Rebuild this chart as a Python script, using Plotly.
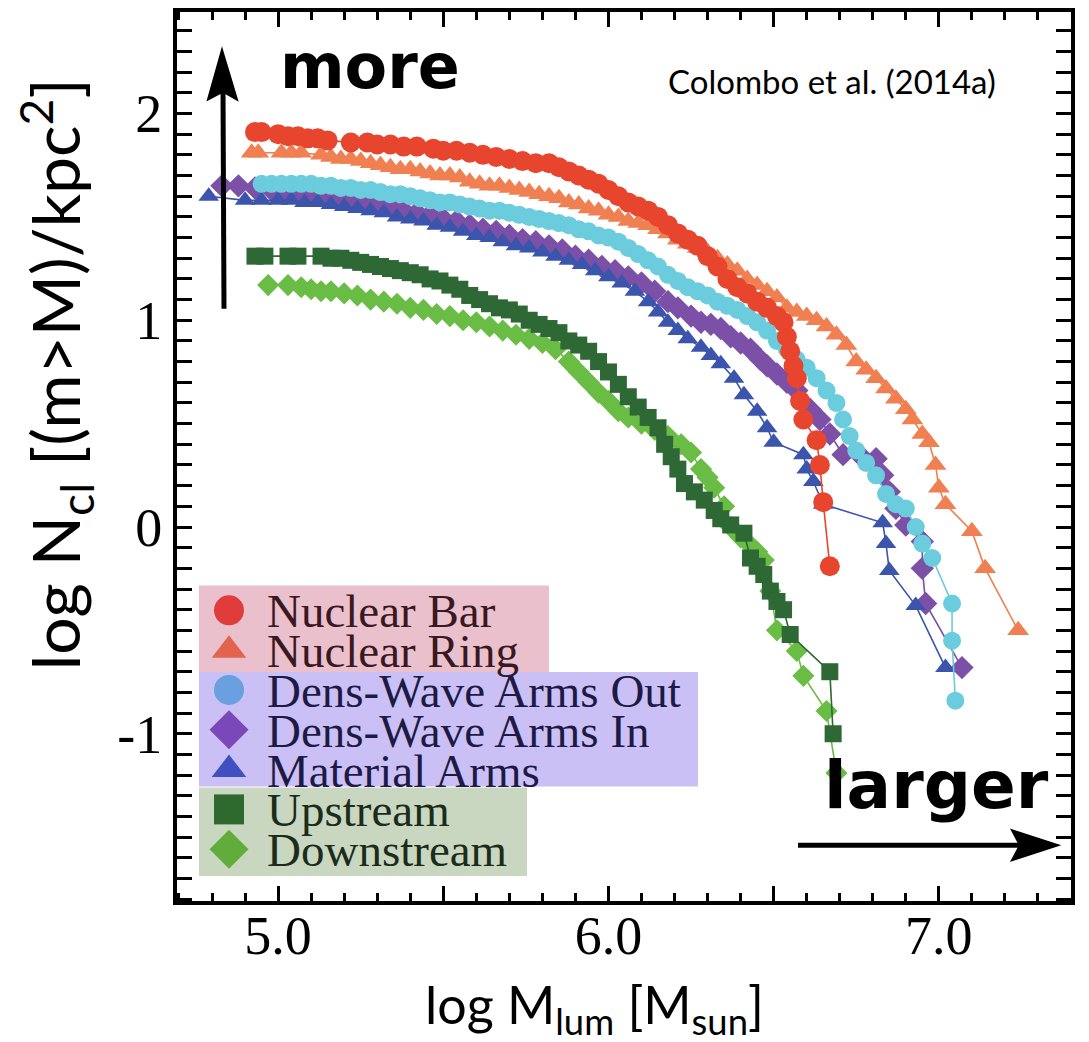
import plotly.graph_objects as go

# ---------------- data ----------------
nb_x = [4.93, 4.95, 5.00, 5.03, 5.06, 5.09, 5.12, 5.15, 5.22, 5.27,
        5.30, 5.34, 5.38, 5.42, 5.47, 5.50, 5.54, 5.58, 5.62, 5.66,
        5.70, 5.74, 5.78, 5.82, 5.85, 5.88, 5.91, 5.94, 5.97, 6.00,
        6.03, 6.06, 6.09, 6.12, 6.15, 6.18, 6.21, 6.24, 6.27, 6.30,
        6.33, 6.36, 6.39, 6.42, 6.45, 6.48, 6.51, 6.53, 6.54, 6.55,
        6.56, 6.57, 6.58, 6.59, 6.63, 6.64, 6.65, 6.67]
nb_y = [1.91, 1.91, 1.90, 1.89, 1.89, 1.88, 1.88, 1.87, 1.86, 1.86,
        1.85, 1.85, 1.84, 1.84, 1.83, 1.82, 1.82, 1.81, 1.80, 1.79,
        1.78, 1.77, 1.76, 1.76, 1.74, 1.72, 1.70, 1.68, 1.66, 1.63,
        1.60, 1.57, 1.55, 1.53, 1.50, 1.46, 1.42, 1.39, 1.36, 1.31,
        1.26, 1.20, 1.16, 1.13, 1.09, 1.06, 1.02, 0.99, 0.92, 0.85,
        0.78, 0.72, 0.61, 0.52, 0.42, 0.30, 0.12, -0.19]

nr_x = [4.92, 4.94, 5.01, 5.04, 5.07, 5.13, 5.16, 5.19, 5.22, 5.25,
        5.28, 5.31, 5.34, 5.37, 5.40, 5.43, 5.46, 5.49, 5.52, 5.55,
        5.58, 5.61, 5.64, 5.67, 5.70, 5.73, 5.76, 5.79, 5.82, 5.85,
        5.88, 5.91, 5.94, 5.97, 6.00, 6.03, 6.06, 6.09, 6.12, 6.15,
        6.18, 6.21, 6.24, 6.27, 6.30, 6.33, 6.36, 6.39, 6.42, 6.45,
        6.48, 6.51, 6.54, 6.57, 6.60, 6.63, 6.66, 6.69, 6.72, 6.75,
        6.78, 6.81, 6.84, 6.87, 6.90, 6.92, 6.95, 6.97, 6.99, 7.00,
        7.02, 7.10, 7.14, 7.24]
nr_y = [1.81, 1.81, 1.81, 1.81, 1.81, 1.80, 1.79, 1.78, 1.78, 1.77,
        1.76, 1.75, 1.74, 1.73, 1.73, 1.72, 1.71, 1.70, 1.70, 1.69,
        1.67, 1.66, 1.65, 1.65, 1.64, 1.63, 1.62, 1.61, 1.60, 1.59,
        1.57, 1.56, 1.54, 1.53, 1.51, 1.50, 1.48, 1.47, 1.46, 1.44,
        1.42, 1.39, 1.37, 1.35, 1.33, 1.30, 1.27, 1.24, 1.20, 1.17,
        1.14, 1.11, 1.06, 1.04, 1.02, 1.00, 0.97, 0.93, 0.88, 0.80,
        0.76, 0.72, 0.67, 0.62, 0.57, 0.52, 0.45, 0.41, 0.30, 0.19,
        0.11, -0.02, -0.20, -0.50]

do_x = [4.95, 4.98, 5.01, 5.04, 5.07, 5.10, 5.13, 5.16, 5.19, 5.22,
        5.25, 5.28, 5.31, 5.34, 5.37, 5.40, 5.43, 5.46, 5.49, 5.52,
        5.55, 5.58, 5.61, 5.64, 5.67, 5.70, 5.73, 5.76, 5.79, 5.82,
        5.85, 5.88, 5.91, 5.94, 5.97, 6.00, 6.03, 6.06, 6.09, 6.12,
        6.15, 6.18, 6.21, 6.24, 6.27, 6.30, 6.33, 6.36, 6.39, 6.42,
        6.45, 6.48, 6.51, 6.54, 6.57, 6.60, 6.63, 6.66, 6.69, 6.71,
        6.73, 6.75, 6.78, 6.81, 6.84, 6.87, 6.90, 6.93, 6.95, 6.98,
        7.04, 7.04, 7.05]
do_y = [1.66, 1.66, 1.66, 1.66, 1.66, 1.66, 1.65, 1.65, 1.64, 1.64,
        1.63, 1.63, 1.62, 1.61, 1.61, 1.60, 1.59, 1.58, 1.57, 1.57,
        1.56, 1.55, 1.54, 1.53, 1.53, 1.52, 1.51, 1.50, 1.49, 1.48,
        1.47, 1.46, 1.44, 1.43, 1.41, 1.40, 1.38, 1.35, 1.32, 1.29,
        1.26, 1.22, 1.19, 1.16, 1.14, 1.12, 1.09, 1.07, 1.05, 1.02,
        0.99, 0.95, 0.90, 0.86, 0.81, 0.77, 0.72, 0.66, 0.60, 0.52,
        0.44, 0.37, 0.31, 0.25, 0.16, 0.11, 0.09, 0.00, -0.08, -0.15,
        -0.37, -0.55, -0.84]

di_x = [4.83, 4.88, 4.93, 4.98, 5.02, 5.06, 5.10, 5.14, 5.18, 5.22,
        5.26, 5.30, 5.34, 5.38, 5.42, 5.46, 5.50, 5.54, 5.58, 5.62,
        5.66, 5.70, 5.74, 5.78, 5.82, 5.86, 5.90, 5.94, 5.98, 6.02,
        6.06, 6.10, 6.14, 6.18, 6.21, 6.25, 6.28, 6.31, 6.34, 6.37,
        6.40, 6.43, 6.46, 6.48, 6.51, 6.54, 6.57, 6.61, 6.64, 6.67,
        6.71, 6.76, 6.81, 6.83, 6.85, 6.87, 6.90, 6.95, 6.95, 6.96,
        7.07]
di_y = [1.65, 1.65, 1.64, 1.63, 1.63, 1.62, 1.62, 1.61, 1.60, 1.59,
        1.58, 1.56, 1.55, 1.53, 1.52, 1.51, 1.49, 1.48, 1.46, 1.44,
        1.43, 1.41, 1.39, 1.38, 1.36, 1.34, 1.31, 1.29, 1.26, 1.24,
        1.21, 1.18, 1.14, 1.09, 1.06, 1.02, 0.99, 0.98, 0.96, 0.92,
        0.89, 0.86, 0.81, 0.78, 0.74, 0.70, 0.66, 0.57, 0.52, 0.45,
        0.35, 0.35, 0.33, 0.25, 0.17, 0.09, 0.01, -0.07, -0.20, -0.37,
        -0.68]

ma_x = [4.79, 4.90, 4.95, 5.00, 5.04, 5.08, 5.12, 5.16, 5.20, 5.24,
        5.28, 5.32, 5.36, 5.40, 5.44, 5.48, 5.52, 5.56, 5.60, 5.64,
        5.68, 5.72, 5.76, 5.80, 5.84, 5.88, 5.92, 5.96, 6.00, 6.04,
        6.08, 6.12, 6.15, 6.18, 6.21, 6.24, 6.28, 6.31, 6.34, 6.38,
        6.41, 6.45, 6.48, 6.50, 6.59, 6.60, 6.62, 6.65, 6.83, 6.84,
        6.85, 6.93, 7.02]
ma_y = [1.60, 1.58, 1.58, 1.58, 1.58, 1.57, 1.57, 1.56, 1.55, 1.54,
        1.53, 1.52, 1.50, 1.49, 1.48, 1.46, 1.45, 1.43, 1.41, 1.40,
        1.38, 1.36, 1.35, 1.33, 1.31, 1.29, 1.27, 1.24, 1.21, 1.18,
        1.14, 1.09, 1.04, 0.99, 0.95, 0.91, 0.87, 0.83, 0.79, 0.72,
        0.64, 0.56, 0.48, 0.41, 0.35, 0.28, 0.22, 0.11, 0.02, -0.08,
        -0.21, -0.38, -0.68]

up_x = [4.93, 4.96, 5.03, 5.06, 5.13, 5.16, 5.19, 5.22, 5.25, 5.28,
        5.31, 5.34, 5.37, 5.40, 5.43, 5.46, 5.49, 5.52, 5.55, 5.58,
        5.61, 5.64, 5.67, 5.70, 5.73, 5.76, 5.79, 5.82, 5.85, 5.88,
        5.91, 5.94, 5.97, 6.00, 6.03, 6.06, 6.09, 6.12, 6.15, 6.17,
        6.19, 6.21, 6.23, 6.26, 6.29, 6.32, 6.34, 6.37, 6.41, 6.43,
        6.45, 6.47, 6.49, 6.51, 6.53, 6.55, 6.67, 6.68]
up_y = [1.31, 1.31, 1.31, 1.31, 1.31, 1.30, 1.30, 1.29, 1.28, 1.27,
        1.26, 1.25, 1.24, 1.23, 1.22, 1.20, 1.19, 1.17, 1.15, 1.12,
        1.10, 1.08, 1.06, 1.05, 1.03, 1.00, 0.98, 0.96, 0.94, 0.90,
        0.88, 0.85, 0.80, 0.75, 0.69, 0.63, 0.58, 0.53, 0.48, 0.40,
        0.34, 0.28, 0.21, 0.17, 0.13, 0.08, 0.04, 0.01, -0.03, -0.15,
        -0.19, -0.23, -0.31, -0.36, -0.40, -0.52, -0.70, -1.00]

ds_x = [4.97, 5.03, 5.07, 5.10, 5.13, 5.16, 5.20, 5.24, 5.28, 5.32,
        5.36, 5.40, 5.44, 5.48, 5.52, 5.56, 5.60, 5.64, 5.68, 5.72,
        5.76, 5.80, 5.84, 5.88, 5.91, 5.94, 5.97, 6.00, 6.03, 6.06,
        6.10, 6.14, 6.18, 6.22, 6.25, 6.28, 6.30, 6.32, 6.35, 6.37,
        6.40, 6.43, 6.45, 6.47, 6.49, 6.51, 6.57, 6.59, 6.66, 6.69]
ds_y = [1.17, 1.17, 1.16, 1.15, 1.14, 1.14, 1.13, 1.12, 1.10, 1.09,
        1.08, 1.06, 1.05, 1.03, 1.02, 1.00, 0.99, 0.97, 0.95, 0.93,
        0.91, 0.89, 0.86, 0.80, 0.75, 0.70, 0.65, 0.61, 0.56, 0.53,
        0.50, 0.47, 0.44, 0.40, 0.36, 0.28, 0.24, 0.19, 0.10, 0.00,
        -0.05, -0.09, -0.12, -0.16, -0.31, -0.50, -0.60, -0.72, -0.89, -1.19]

series_names = ["Nuclear Bar", "Nuclear Ring", "Dens-Wave Arms Out",
                "Dens-Wave Arms In", "Material Arms", "Upstream", "Downstream"]

x_label_vals = [5.0, 6.0, 7.0]
x_label_text = ["5.0", "6.0", "7.0"]
x_half_vals = [5.5, 6.5]          # long unlabeled ticks
y_tick_vals = [-1, 0, 1, 2]
y_tick_text = ["-1", "0", "1", "2"]

# ---------------- styling ----------------
W, H = 1089, 1042
L, R, T, B = 177, 1071, 8, 901   # plot area in pixels


def px(x):
    return (x - L) / (R - L)


def py(y):
    return (B - y) / (B - T)


plot_style = {
    "Nuclear Bar":        dict(symbol="circle",        color="#e8452e", size=20),
    "Nuclear Ring":       dict(symbol="triangle-up",   color="#f07f52", size=19),
    "Dens-Wave Arms Out": dict(symbol="circle",        color="#6accdc", size=18),
    "Dens-Wave Arms In":  dict(symbol="diamond",       color="#7d50a8", size=18),
    "Material Arms":      dict(symbol="triangle-up",   color="#3b55ad", size=18),
    "Upstream":           dict(symbol="square",        color="#2d6835", size=17),
    "Downstream":         dict(symbol="diamond",       color="#69bd45", size=17),
}
legend_color = {
    "Nuclear Bar": "#e03c3c", "Nuclear Ring": "#e2644f",
    "Dens-Wave Arms Out": "#6aa0e0", "Dens-Wave Arms In": "#7a48b8",
    "Material Arms": "#4150c0", "Upstream": "#2e6a2e", "Downstream": "#62ac3c",
}
data = {
    "Nuclear Bar": (nb_x, nb_y), "Nuclear Ring": (nr_x, nr_y),
    "Dens-Wave Arms Out": (do_x, do_y), "Dens-Wave Arms In": (di_x, di_y),
    "Material Arms": (ma_x, ma_y), "Upstream": (up_x, up_y),
    "Downstream": (ds_x, ds_y),
}
for k, (xs, ys) in data.items():
    if len(xs) != len(ys):
        raise ValueError(f"{k}: {len(xs)} vs {len(ys)}")

draw_order = ["Downstream", "Upstream", "Dens-Wave Arms In", "Material Arms",
              "Dens-Wave Arms Out", "Nuclear Ring", "Nuclear Bar"]

fig = go.Figure()
for name in draw_order:
    xs, ys = data[name]
    st = plot_style[name]
    fig.add_trace(go.Scatter(
        x=xs, y=ys, mode="lines+markers", name=name, showlegend=False,
        line=dict(color=st["color"], width=1.6),
        marker=dict(symbol=st["symbol"], size=st["size"], color=st["color"],
                    line=dict(width=0)),
    ))

# empty trace so the half-unit tick axis is drawn
fig.add_trace(go.Scatter(x=[], y=[], xaxis="x3", yaxis="y", showlegend=False,
                         hoverinfo="skip"))

# ---------------- custom legend (pixel overlay axes) ----------------
leg_rows_y = [609, 649, 689, 729, 769, 809, 849]
leg_marker_x = 229
leg_text_x = 265
text_col = ["#3a1822", "#3a1822", "#1d1a46", "#1d1a46", "#1d1a46", "#1b2c1a", "#1b2c1a"]
leg_boxes = [
    dict(x0=199, x1=549, y0=584, y1=671, color="#ebc0cd"),
    dict(x0=199, x1=698, y0=671, y1=786, color="#cbc0f5"),
    dict(x0=199, x1=527, y0=787, y1=876, color="#c9d7c0"),
]
for b in leg_boxes:
    fig.add_shape(type="rect", xref="x2", yref="y2", x0=b["x0"], x1=b["x1"],
                  y0=b["y0"], y1=b["y1"], fillcolor=b["color"],
                  line=dict(width=0), layer="below")

for i, name in enumerate(series_names):
    st = plot_style[name]
    fig.add_trace(go.Scatter(
        x=[leg_marker_x], y=[leg_rows_y[i]], xaxis="x2", yaxis="y2",
        mode="markers", showlegend=False, hoverinfo="skip",
        marker=dict(symbol=st["symbol"], size=30,
                    color=legend_color[name], line=dict(width=0)),
    ))
    fig.add_annotation(x=leg_text_x, y=leg_rows_y[i] + 1, xref="x2", yref="y2",
                       text=name, showarrow=False, xanchor="left", yanchor="middle",
                       font=dict(family="Liberation Serif", size=47, color=text_col[i]))

# ---------------- annotations ----------------
fig.add_annotation(x=832, y=77, xref="x2", yref="y2", text="Colombo et al. (2014a)",
                   showarrow=False, font=dict(family="Lato", size=33, color="black"))
fig.add_annotation(x=370, y=63, xref="x2", yref="y2", text="<b>more</b>",
                   showarrow=False, font=dict(family="DejaVu Sans", size=62, color="black"))
fig.add_annotation(x=936, y=785, xref="x2", yref="y2", text="<b>larger</b>",
                   showarrow=False, font=dict(family="DejaVu Sans", size=66, color="black"))

# hand-drawn style arrows as shapes
fig.add_shape(type="line", xref="x2", yref="y2", x0=224, y0=306, x1=223, y1=85,
              line=dict(color="black", width=5))
fig.add_shape(type="path", xref="x2", yref="y2",
              path="M 222 46 L 208 96 L 223 88 L 237 96 Z",
              fillcolor="black", line=dict(color="black", width=2))
fig.add_shape(type="line", xref="x2", yref="y2", x0=798, y0=845, x1=1025, y1=845,
              line=dict(color="black", width=5))
fig.add_shape(type="path", xref="x2", yref="y2",
              path="M 1058 845 L 1012 830 L 1020 845 L 1012 860 Z",
              fillcolor="black", line=dict(color="black", width=2))

# axis titles (paper coordinates so they can sit outside the plot area)
fig.add_annotation(x=px(594), y=py(1008), xref="paper", yref="paper",
                   xanchor="center", yanchor="middle",
                   text="log M<sub>lum</sub> [M<sub>sun</sub>]", showarrow=False,
                   font=dict(family="Lato", size=52, color="black"))
fig.add_annotation(x=px(56), y=py(372), xref="paper", yref="paper", textangle=-90,
                   xanchor="center", yanchor="middle",
                   text="log N<sub>cl</sub> [(m&gt;M)/kpc<sup>2</sup>]", showarrow=False,
                   font=dict(family="Lato", size=66, color="black"))

axis_common = dict(showgrid=False, zeroline=False, showline=True, linewidth=4,
                   linecolor="black", mirror="allticks", ticks="inside",
                   ticklen=15, tickwidth=3, tickcolor="black",
                   tickfont=dict(family="Liberation Serif", size=54, color="black"))
minor_ticks = dict(dtick=0.1, tick0=0, ticks="inside", ticklen=8,
                   tickwidth=2.5, tickcolor="black")

fig.update_layout(
    width=W, height=H,
    margin=dict(l=L, r=W - R, t=T, b=H - B, pad=0),
    paper_bgcolor="white", plot_bgcolor="white",
    xaxis=dict(range=[4.694, 7.40], tickmode="array", tickvals=x_label_vals,
               ticktext=x_label_text, ticklabelstandoff=-16,
               minor=minor_ticks, **axis_common),
    yaxis=dict(range=[-1.809, 2.491], tickmode="array", tickvals=y_tick_vals,
               ticktext=y_tick_text, minor=minor_ticks, **axis_common),
    xaxis2=dict(range=[L, R], overlaying="x", visible=False, fixedrange=True),
    yaxis2=dict(range=[B, T], overlaying="y", visible=False, fixedrange=True),
    xaxis3=dict(range=[4.694, 7.40], overlaying="x", anchor="y", side="bottom",
                tickmode="array", tickvals=x_half_vals, showticklabels=False,
                showgrid=False, zeroline=False, showline=True, linewidth=4,
                linecolor="black", mirror="allticks", ticks="inside",
                ticklen=15, tickwidth=3, tickcolor="black"),
)

fig.write_html("out.html", config={"displayModeBar": False},
               post_script="document.body.style.margin='0';")
